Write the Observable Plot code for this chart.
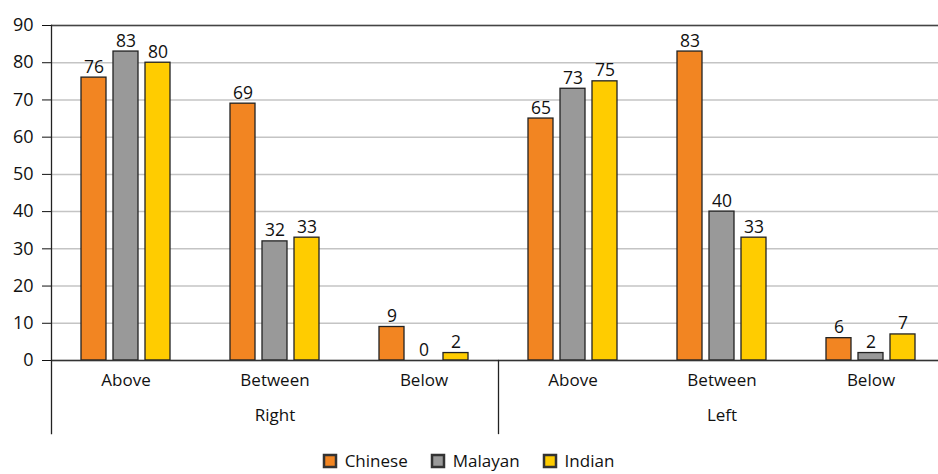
<!DOCTYPE html>
<html>
<head>
<meta charset="utf-8">
<script src="https://cdn.jsdelivr.net/npm/d3@7"></script>
<script src="https://cdn.jsdelivr.net/npm/@observablehq/plot@0.6"></script>
<style>
  body { margin: 0; background: #fff; font-family: "Open Sans", sans-serif; }
  #chart svg { overflow: visible; }
  #legend { display: flex; justify-content: center; }
  #legend svg rect { stroke: #333; stroke-width: 2.5; }
  #legend span { margin-right: 24px !important; }
  #legend span:last-child { margin-right: 0 !important; }
  #legend span svg { margin-right: 9px !important; }
</style>
</head>
<body>
<div id="chart"></div>
<div id="legend"></div>
<script>
const groups = ["Right", "Left"];
const positions = ["Above", "Between", "Below"];
const ethnicities = ["Chinese", "Malayan", "Indian"];
// values per category, order: Right-Above, Right-Between, Right-Below, Left-Above, Left-Between, Left-Below
const chinese = [76, 69, 9, 65, 83, 6];
const malayan = [83, 32, 0, 73, 40, 2];
const indian  = [80, 33, 2, 75, 33, 7];
const yTicks = [0, 10, 20, 30, 40, 50, 60, 70, 80, 90];
const colors = ["#F28522", "#999999", "#FFCC00"];

const keys = [];
groups.forEach(g => positions.forEach(p => keys.push(g + "|" + p)));
const series = [chinese, malayan, indian];
const rows = [];
keys.forEach((k, i) => ethnicities.forEach((e, j) => rows.push({key: k, eth: e, value: series[j][i]})));
const outer = groups.map(g => ({key: g + "|Between", label: g}));

const font = "Open Sans, sans-serif";
const plot = Plot.plot({
  width: 938,
  height: 442,
  marginTop: 25,
  marginBottom: 82,
  marginLeft: 50,
  marginRight: -8,
  style: {fontFamily: font, fontSize: "17px", color: "#111", background: "#fff"},
  fx: {domain: keys, padding: 0, tickFormat: d => d.split("|")[1], tickSize: 0, tickPadding: 13, label: null},
  x: {domain: ethnicities, paddingInner: 0.21, paddingOuter: 0.87, axis: null},
  y: {domain: [0, 90], axis: null},
  color: {domain: ethnicities, range: colors},
  marks: [
    Plot.gridY(yTicks, {stroke: "#c4c4c4", strokeOpacity: 1, strokeWidth: 1.5}),
    Plot.axisY(yTicks, {tickSize: 9, tickPadding: 9, fontSize: 18, label: null}),
    Plot.ruleY([90], {stroke: "#444", strokeWidth: 1.5}),
    Plot.barY(rows, {fx: "key", x: "eth", y: "value", fill: "eth", stroke: "#222", strokeWidth: 1.3}),
    Plot.text(rows, {fx: "key", x: "eth", y: "value", text: d => String(d.value), dy: -5, lineAnchor: "bottom", fontSize: 17.5, fill: "#111"}),
    Plot.ruleY([0], {stroke: "#333", strokeWidth: 1.3}),
    Plot.frame({anchor: "left", fx: () => "Right|Above", stroke: "#222", strokeWidth: 1.3, insetBottom: -73}),
    Plot.frame({anchor: "left", fx: () => "Left|Above", stroke: "#222", strokeWidth: 1.3, insetTop: 335, insetBottom: -73}),
    Plot.text(outer, {fx: "key", text: "label", frameAnchor: "bottom", dy: 60, fontSize: 17, fill: "#111"})
  ]
});
document.getElementById("chart").append(plot);

const legend = plot.legend("color", {swatchSize: 12, style: {fontFamily: font, fontSize: "17px", color: "#111"}});
legend.style.justifyContent = "center";
legend.style.marginTop = "2px";
document.getElementById("legend").append(legend);
</script>
</body>
</html>
